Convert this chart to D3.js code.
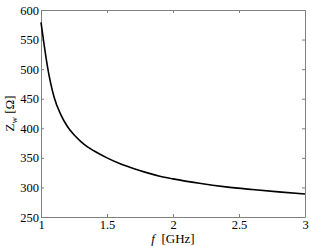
<!DOCTYPE html>
<html>
<head>
<meta charset="utf-8">
<script src="https://cdn.jsdelivr.net/npm/d3@7"></script>
<style>
  body { margin: 0; background: #fff; }
  svg text { font-family: "Liberation Serif", serif; }
</style>
</head>
<body>
<div id="chart"></div>
<script>
// frequency (GHz) and wave impedance (ohm)
const freqs = [1.00, 1.02, 1.05, 1.10, 1.15, 1.20, 1.25, 1.30, 1.35, 1.40, 1.50, 1.60, 1.70, 1.80, 1.90, 2.00, 2.20, 2.40, 2.60, 2.80, 3.00];
const zw = [579, 547, 503, 452, 423, 403, 389, 378, 369, 362, 350, 340, 332, 325, 319, 314.5, 307, 301, 296.5, 292.5, 289];
const xTicks = [1, 1.5, 2, 2.5, 3];
const yTicks = [250, 300, 350, 400, 450, 500, 550, 600];

function drawChart() {
    const W = 311, H = 246;
    const margin = { top: 10, right: 6, bottom: 29, left: 41 };
    const width = W - margin.left - margin.right;
    const height = H - margin.top - margin.bottom;
    const serif = "Liberation Serif";

    const svg = d3.select("#chart").append("svg")
        .attr("width", W)
        .attr("height", H)
        .attr("font-family", serif);
    const g = svg.append("g")
        .attr("transform", `translate(${margin.left},${margin.top})`);

    const x = d3.scaleLinear().domain([1, 3]).range([0, width]);
    const y = d3.scaleLinear().domain([250, 600]).range([height, 0]);

    const data = freqs.map((f, i) => ({ f: f, z: zw[i] }));

    // axes with inward ticks, mirrored on top/right like a boxed plot
    const fmt = d => String(d);
    const axisStyle = sel => {
        sel.attr("font-family", serif);
        sel.select(".domain").attr("stroke", "#808080");
        sel.selectAll(".tick line").attr("stroke", "#808080");
        sel.selectAll(".tick text").attr("fill", "#000")
            .attr("font-family", serif)
            .style("font-size", "12.5px");
    };

    g.append("g")
        .attr("transform", `translate(0,${height})`)
        .call(d3.axisBottom(x).tickValues(xTicks).tickFormat(fmt).tickSizeInner(-3).tickSizeOuter(0).tickPadding(3))
        .call(axisStyle);
    g.append("g")
        .call(d3.axisLeft(y).tickValues(yTicks).tickFormat(fmt).tickSizeInner(-3).tickSizeOuter(0).tickPadding(2))
        .call(axisStyle);
    g.append("g")
        .call(d3.axisTop(x).tickValues(xTicks).tickFormat("").tickSizeInner(-3).tickSizeOuter(0))
        .call(axisStyle);
    g.append("g")
        .attr("transform", `translate(${width},0)`)
        .call(d3.axisRight(y).tickValues(yTicks).tickFormat("").tickSizeInner(-3).tickSizeOuter(0))
        .call(axisStyle);

    // the curve
    const line = d3.line()
        .x(d => x(d.f))
        .y(d => y(d.z))
        .curve(d3.curveMonotoneX);
    g.append("path")
        .datum(data)
        .attr("fill", "none")
        .attr("stroke", "#000")
        .attr("stroke-width", 1.6)
        .attr("d", line);

    // x label
    const xl = svg.append("text")
        .attr("x", margin.left + width / 2)
        .attr("y", 243)
        .attr("text-anchor", "middle")
        .attr("font-family", serif)
        .style("font-size", "13px");
    xl.append("tspan").style("font-style", "italic").text("f");
    xl.append("tspan").text("\u00a0 [GHz]");

    // y label
    const yl = svg.append("text")
        .attr("transform", `translate(14,${margin.top + height / 2}) rotate(-90)`)
        .attr("text-anchor", "middle")
        .attr("font-family", serif)
        .style("font-size", "13px");
    yl.append("tspan").text("Z");
    yl.append("tspan").attr("dy", 3).style("font-size", "9px").text("w");
    yl.append("tspan").attr("dy", -3).text("\u00a0[\u03a9]");
}

document.addEventListener("DOMContentLoaded", drawChart);
</script>
</body>
</html>
